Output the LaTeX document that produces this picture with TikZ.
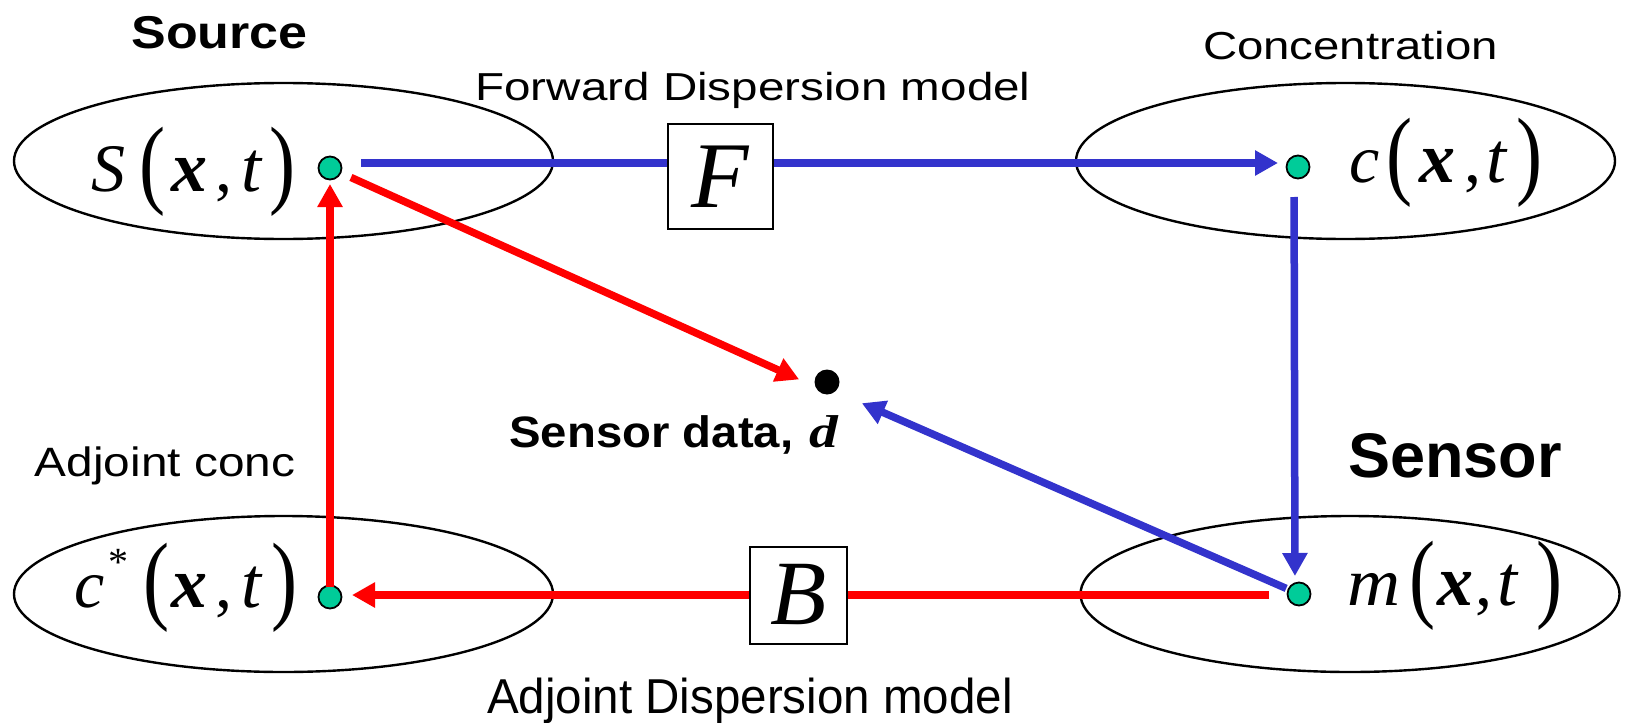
\documentclass[tikz,border=0pt]{standalone}
\usepackage{fontspec}
\usepackage{graphicx}
\setmainfont{Liberation Sans}
\newfontfamily\mf{Liberation Serif}
\usetikzlibrary{arrows.meta,shapes.geometric}
\definecolor{fblue}{RGB}{51,51,204}
\definecolor{fred}{RGB}{255,0,0}
\definecolor{fgreen}{RGB}{0,204,153}
\newcommand\pl[2]{\makebox[0pt][l]{\hspace*{#1}#2}}
\newcommand\fs[1]{\fontsize{#1}{#1}\selectfont}
\newcommand\bp[1]{\raisebox{-2pt}{\scalebox{1.15}[1.45]{#1}}}
\newcommand\xt[5]{\pl{#1}{\bp{(}}\pl{#2}{\fs{36}\bfseries\itshape x}\pl{#3}{,}\pl{#4}{\fs{36}\itshape t}\pl{#5}{\bp{)}}}
\begin{document}
\begin{tikzpicture}[x=0.5pt,y=-0.5pt,
  oval/.style={ellipse,draw,line width=1.2pt,minimum width=269.5pt,minimum height=78pt,inner sep=0pt},
  gdot/.style={circle,draw,fill=fgreen,line width=0.9pt,minimum size=11.5pt,inner sep=0pt},
  bdot/.style={circle,fill=black,minimum size=12.5pt,inner sep=0pt},
  opbox/.style={draw,fill=white,line width=1pt,minimum size=52.5pt,inner sep=0pt,font=\mf\itshape\fs{47}},
  bl/.style={draw=fblue,line width=3.75pt,-{Triangle[length=11.5pt,width=12pt]}},
  rd/.style={draw=fred,line width=3.75pt,-{Triangle[length=11.5pt,width=12pt]}},
  ml/.style={inner sep=0pt,anchor=base west,font=\mf\fs{34}},
  lab/.style={inner sep=0pt,anchor=base},
]
\useasboundingbox (0,0) rectangle (1625,722);
% ovals
\node[oval] (srcE) at (283.5,161) {};
\node[oval] (conE) at (1345.5,161) {};
\node[oval] (adjE) at (283.5,594) {};
\node[oval] (senE) at (1350,594) {};
% dots
\node[gdot] (sd) at (330,168) {};
\node[gdot] (cd) at (1298,167) {};
\node[gdot] (csd) at (330,597) {};
\node[gdot] (md) at (1299,594) {};
\node[bdot] (bd) at (827,382) {};
% connectors
\draw[bl,shorten <=15.5pt,shorten >=10pt] ([yshift=2.5pt]sd.center) -- ([yshift=2pt]cd.center);
\draw[bl,shorten <=15pt,shorten >=9pt] ([xshift=-2pt]cd.center) -- ([xshift=-2pt]md.center);
\draw[bl,shorten <=7pt,shorten >=19pt] (md.center) -- ([yshift=-3pt]bd.center);
\draw[rd,shorten <=15pt,shorten >=11pt] ([yshift=-0.5pt]md.center) -- ([yshift=1pt]csd.center);
\draw[rd,shorten <=5pt,shorten >=8pt] (csd.center) -- (sd.center);
\draw[rd,shorten <=11.5pt,shorten >=15.3pt] (sd.center) -- ([yshift=-5pt]bd.center);
% operator boxes
\node[opbox] (F) at (720.5,176.5) {F};
\node[opbox,minimum size=48.5pt,font=\mf\itshape\fs{46}] (B) at (798.5,595) {B};
% math labels
\node[ml] (Slab) at (90,191) {\pl{0pt}{\itshape S}\xt{24pt}{40pt}{62pt}{75pt}{89pt}};
\node[ml] (clab) at (1348,182) {\pl{0pt}{\itshape c}\xt{18.5pt}{35pt}{57.5pt}{68.5pt}{83.5pt}};
\node[ml] (cslab) at (73,607) {\pl{0pt}{\itshape c}\pl{17pt}{\raisebox{16pt}{\fs{20}*}}\xt{34.5pt}{48.5pt}{70.5pt}{83.5pt}{98.5pt}};
\node[ml] (mlab) at (1346,605) {\pl{0pt}{\scalebox{1.08}[1]{\itshape m}}\xt{31pt}{45pt}{64pt}{75pt}{94.5pt}};
% text labels
\node[lab,font=\bfseries\fs{23}] (source) at (219.5,49) {\scalebox{1.13}[1]{Source}};
\node[lab,font=\fs{19.5}] (fwd) at (753,100) {\scalebox{1.22}[1]{Forward Dispersion model}};
\node[lab,font=\fs{19.5}] (conc) at (1350.5,60) {\scalebox{1.215}[1]{Concentration}};
\node[lab,font=\fs{20.5}] (adjc) at (165,476) {\scalebox{1.165}[1]{Adjoint conc}};
\node[lab,font=\bfseries\fs{31.5}] (sensor) at (1455,477) {Sensor};
\node[lab,font=\fs{24.5}] (adjd) at (750,713) {\scalebox{0.97}[1]{Adjoint Dispersion model}};
\node[inner sep=0pt,anchor=base west] (sdata) at (508,447) {\pl{0pt}{\bfseries\fs{22}\scalebox{1.075}[1]{Sensor data,}}\pl{150pt}{\mf\bfseries\itshape\fs{23}\scalebox{1.25}[1]{d}}};
\end{tikzpicture}
\end{document}
